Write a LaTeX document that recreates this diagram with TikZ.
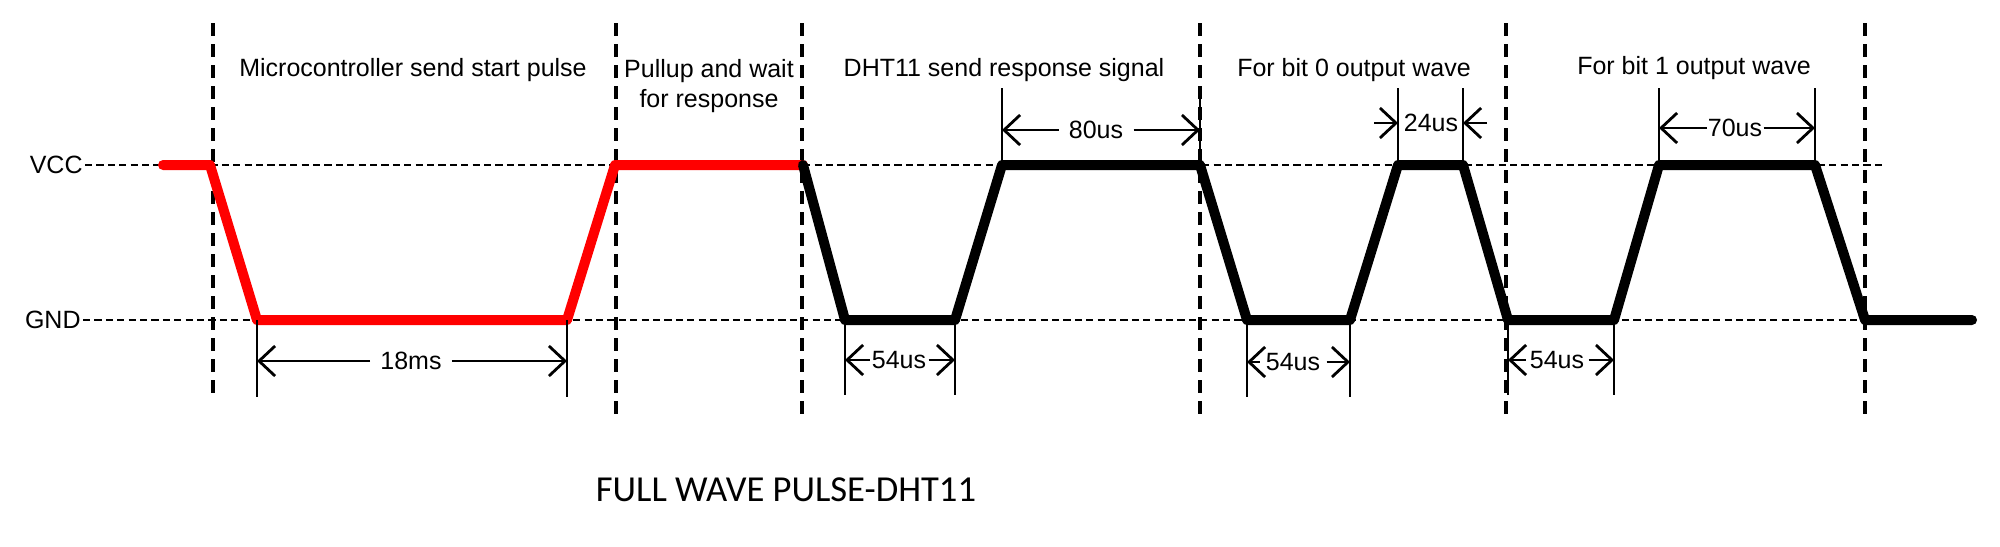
\documentclass[tikz,border=0pt]{standalone}
\usepackage{fontspec}
\setmainfont{Liberation Sans}
\newfontfamily\calib{Carlito}
\usetikzlibrary{arrows.meta}
\begin{document}
\begin{tikzpicture}[x=0.5pt,y=-0.5pt,
  sig/.style={line width=5pt,line join=round,line cap=round},
  refline/.style={line width=1.4pt,dash pattern=on 3.6pt off 2.1pt},
  sepline/.style={line width=1.7pt,dash pattern=on 6.5pt off 4pt},
  tick/.style={line width=1.25pt},
  dim/.style={line width=1.3pt,-{Straight Barb[length=8pt,width=15pt,line width=1.4pt]}},
  lbl/.style={font=\fontsize{12.5}{15}\selectfont,inner sep=1pt},
  dimlbl/.style={lbl,inner sep=2pt},
]
\useasboundingbox (0,0) rectangle (2000,546);
% level labels and reference lines
\node[lbl,anchor=east] (vcc) at (85,165) {VCC};
\node[lbl,anchor=east] (gnd) at (83,320) {GND};
\coordinate (vccend) at (1884,165);
\coordinate (gndend) at (1972,320);
\draw[refline] (vcc.east) -- (vccend);
\draw[refline] (gnd.east) -- (gndend);
% separators
\coordinate (s1t) at (213,23);  \coordinate (s1b) at (213,397);
\coordinate (s2t) at (616,23);  \coordinate (s2b) at (616,420);
\coordinate (s3t) at (802,23);  \coordinate (s3b) at (802,415);
\coordinate (s4t) at (1200,23); \coordinate (s4b) at (1200,420);
\coordinate (s5t) at (1506,23); \coordinate (s5b) at (1506,420);
\coordinate (s6t) at (1865,23); \coordinate (s6b) at (1865,415);
\foreach \i in {1,...,6} \draw[sepline] (s\i t) -- (s\i b);
% headings
\node[lbl] (h1) at (413,70) {Microcontroller send start pulse};
\node[lbl,align=center] (h2) at (709,86) {Pullup and wait\\for response};
\node[lbl] (h3) at (1004,70) {DHT11 send response signal};
\node[lbl] (h4) at (1354,70) {For bit 0 output wave};
\node[lbl] (h5) at (1694,68) {For bit 1 output wave};
\node[font=\calib\fontsize{18.3}{22}\selectfont] (title) at (786,490) {FULL WAVE PULSE-DHT11};
% signal points
\coordinate (r0) at (163,165); \coordinate (r1) at (210,165);
\coordinate (r2) at (257,320); \coordinate (r3) at (567,320);
\coordinate (r4) at (615,165); \coordinate (r5) at (803,165);
\coordinate (b1) at (845,320); \coordinate (b2) at (955,320);
\coordinate (b3) at (1002,165); \coordinate (b4) at (1200,165);
\coordinate (b5) at (1247,320); \coordinate (b6) at (1350,320);
\coordinate (b7) at (1398,165); \coordinate (b8) at (1463,165);
\coordinate (b9) at (1508,320); \coordinate (b10) at (1614,320);
\coordinate (b11) at (1659,165); \coordinate (b12) at (1815,165);
\coordinate (b13) at (1865,320); \coordinate (b14) at (1972,320);
\draw[sig,red] (r0) -- (r1) -- (r2) -- (r3) -- (r4) -- (r5);
\draw[sig,black] (r5) -- (b1) -- (b2) -- (b3) -- (b4) -- (b5) -- (b6) -- (b7) -- (b8) -- (b9) -- (b10) -- (b11) -- (b12) -- (b13) -- (b14);
% 18ms
\coordinate (t1) at (257,397); \coordinate (t2) at (567,397);
\draw[tick] (r2) -- (t1); \draw[tick] (r3) -- (t2);
\node[dimlbl,inner sep=5pt] (d18) at (411,361) {18ms};
\coordinate (d18l) at (257,361); \coordinate (d18r) at (567,361);
\draw[dim] (d18) -- (d18l); \draw[dim] (d18) -- (d18r);
% 54us a
\coordinate (t3) at (845,395); \coordinate (t4) at (955,395);
\draw[tick] (b1) -- (t3); \draw[tick] (b2) -- (t4);
\node[dimlbl,inner sep=1pt] (d54a) at (899,360) {54us};
\coordinate (d54al) at (845,360); \coordinate (d54ar) at (955,360);
\draw[dim] (d54a) -- (d54al); \draw[dim] (d54a) -- (d54ar);
% 80us
\coordinate (t5) at (1002,88); \coordinate (t6) at (1200,88);
\draw[tick] (b3) -- (t5); \draw[tick] (b4) -- (t6);
\node[dimlbl,inner sep=5pt] (d80) at (1096,130) {80us};
\coordinate (d80l) at (1002,130); \coordinate (d80r) at (1200,130);
\draw[dim] (d80) -- (d80l); \draw[dim] (d80) -- (d80r);
% 54us b
\coordinate (t7) at (1247,397); \coordinate (t8) at (1350,397);
\draw[tick] (b5) -- (t7); \draw[tick] (b6) -- (t8);
\node[dimlbl,inner sep=3pt] (d54b) at (1293,362) {54us};
\coordinate (d54bl) at (1247,362); \coordinate (d54br) at (1350,362);
\draw[dim] (d54b) -- (d54bl); \draw[dim] (d54b) -- (d54br);
% 24us
\coordinate (t9) at (1398,88); \coordinate (t10) at (1463,88);
\draw[tick] (b7) -- (t9); \draw[tick] (b8) -- (t10);
\node[lbl] (d24) at (1431,123) {24us};
\coordinate (d24lo) at (1374,123); \coordinate (d24li) at (1398,123);
\coordinate (d24ro) at (1487,123); \coordinate (d24ri) at (1463,123);
\draw[dim] (d24lo) -- (d24li); \draw[dim] (d24ro) -- (d24ri);
% 54us c
\coordinate (t11) at (1508,395); \coordinate (t12) at (1614,395);
\draw[tick] (b9) -- (t11); \draw[tick] (b10) -- (t12);
\node[dimlbl,inner sep=2pt] (d54c) at (1557,360) {54us};
\coordinate (d54cl) at (1508,360); \coordinate (d54cr) at (1614,360);
\draw[dim] (d54c) -- (d54cl); \draw[dim] (d54c) -- (d54cr);
% 70us
\coordinate (t13) at (1659,88); \coordinate (t14) at (1815,88);
\draw[tick] (b11) -- (t13); \draw[tick] (b12) -- (t14);
\node[dimlbl,inner sep=0.5pt] (d70) at (1735,128) {70us};
\coordinate (d70l) at (1659,128); \coordinate (d70r) at (1815,128);
\draw[dim] (d70) -- (d70l); \draw[dim] (d70) -- (d70r);
\end{tikzpicture}
\end{document}
